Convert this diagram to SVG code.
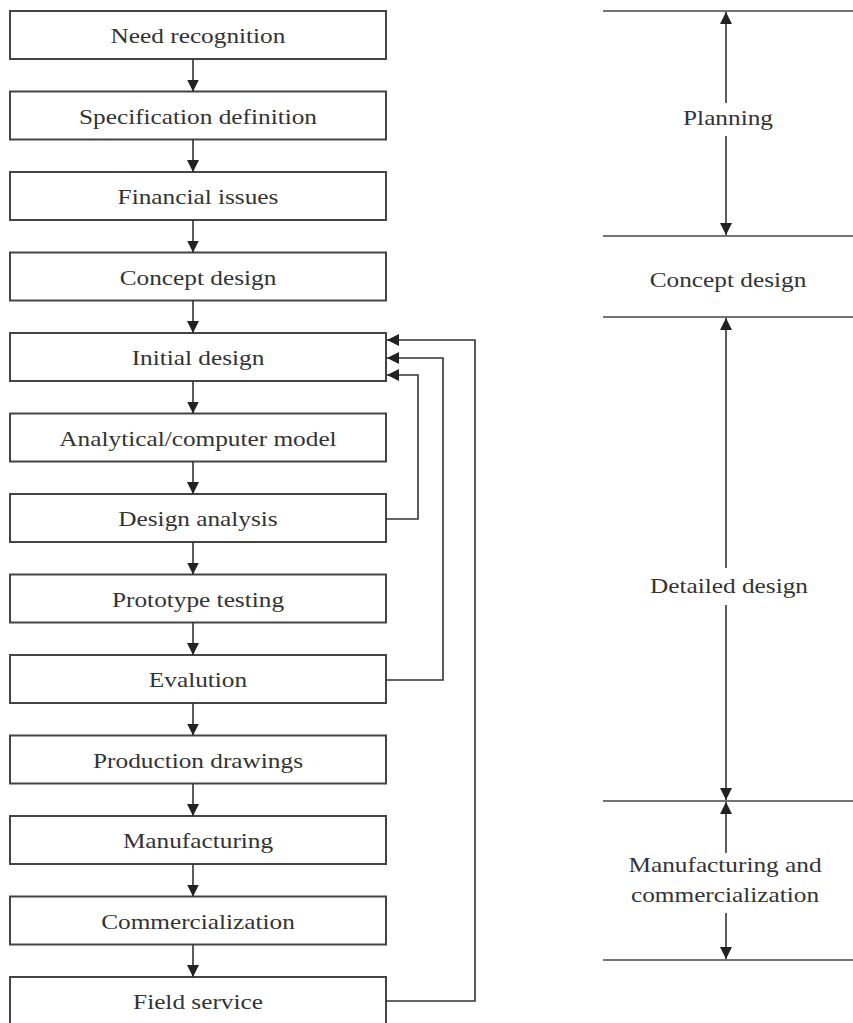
<svg xmlns="http://www.w3.org/2000/svg" width="853" height="1023" viewBox="0 0 853 1023">
<style>
.box{fill:#fff;stroke:#444;stroke-width:2}
.ln{fill:none;stroke:#333;stroke-width:1.6}
.hl{fill:none;stroke:#444;stroke-width:1.6}
.t{font-family:"Liberation Serif","Times New Roman",serif;font-size:22px;fill:#333;text-anchor:middle}
</style>
<defs>
<marker id="ah2" viewBox="0 0 12 12" refX="12" refY="6" markerWidth="12" markerHeight="12" markerUnits="userSpaceOnUse" orient="auto">
<path d="M0,0 L12,6 L0,12 Z" fill="#222"/>
</marker>
</defs>
<rect width="853" height="1023" fill="#fff"/>
<g id="n1"><rect class="box" x="10" y="11" width="376" height="48"/><text class="t" transform="translate(198,43) scale(1.15,1)">Need recognition</text></g>
<g id="n2"><rect class="box" x="10" y="91.5" width="376" height="48"/><text class="t" transform="translate(198,123.5) scale(1.15,1)">Specification definition</text></g>
<g id="n3"><rect class="box" x="10" y="172" width="376" height="48"/><text class="t" transform="translate(198,204) scale(1.15,1)">Financial issues</text></g>
<g id="n4"><rect class="box" x="10" y="252.5" width="376" height="48"/><text class="t" transform="translate(198,284.5) scale(1.15,1)">Concept design</text></g>
<g id="n5"><rect class="box" x="10" y="333" width="376" height="48"/><text class="t" transform="translate(198,365) scale(1.15,1)">Initial design</text></g>
<g id="n6"><rect class="box" x="10" y="413.5" width="376" height="48"/><text class="t" transform="translate(198,445.5) scale(1.15,1)">Analytical/computer model</text></g>
<g id="n7"><rect class="box" x="10" y="494" width="376" height="48"/><text class="t" transform="translate(198,526) scale(1.15,1)">Design analysis</text></g>
<g id="n8"><rect class="box" x="10" y="574.5" width="376" height="48"/><text class="t" transform="translate(198,606.5) scale(1.15,1)">Prototype testing</text></g>
<g id="n9"><rect class="box" x="10" y="655" width="376" height="48"/><text class="t" transform="translate(198,687) scale(1.15,1)">Evalution</text></g>
<g id="n10"><rect class="box" x="10" y="735.5" width="376" height="48"/><text class="t" transform="translate(198,767.5) scale(1.15,1)">Production drawings</text></g>
<g id="n11"><rect class="box" x="10" y="816" width="376" height="48"/><text class="t" transform="translate(198,848) scale(1.15,1)">Manufacturing</text></g>
<g id="n12"><rect class="box" x="10" y="896.5" width="376" height="48"/><text class="t" transform="translate(198,928.5) scale(1.15,1)">Commercialization</text></g>
<g id="n13"><rect class="box" x="10" y="977" width="376" height="48"/><text class="t" transform="translate(198,1009) scale(1.15,1)">Field service</text></g>
<g id="connectors">
<line class="ln" x1="193" y1="59" x2="193" y2="91.5" marker-end="url(#ah2)"/>
<line class="ln" x1="193" y1="139.5" x2="193" y2="172" marker-end="url(#ah2)"/>
<line class="ln" x1="193" y1="220" x2="193" y2="252.5" marker-end="url(#ah2)"/>
<line class="ln" x1="193" y1="300.5" x2="193" y2="333" marker-end="url(#ah2)"/>
<line class="ln" x1="193" y1="381" x2="193" y2="413.5" marker-end="url(#ah2)"/>
<line class="ln" x1="193" y1="461.5" x2="193" y2="494" marker-end="url(#ah2)"/>
<line class="ln" x1="193" y1="542" x2="193" y2="574.5" marker-end="url(#ah2)"/>
<line class="ln" x1="193" y1="622.5" x2="193" y2="655" marker-end="url(#ah2)"/>
<line class="ln" x1="193" y1="703" x2="193" y2="735.5" marker-end="url(#ah2)"/>
<line class="ln" x1="193" y1="783.5" x2="193" y2="816" marker-end="url(#ah2)"/>
<line class="ln" x1="193" y1="864" x2="193" y2="896.5" marker-end="url(#ah2)"/>
<line class="ln" x1="193" y1="944.5" x2="193" y2="977" marker-end="url(#ah2)"/>
<polyline class="ln" points="386,519 418,519 418,375 387,375" marker-end="url(#ah2)"/>
<polyline class="ln" points="386,680 443,680 443,358 387,358" marker-end="url(#ah2)"/>
<polyline class="ln" points="386,1001 475,1001 475,340 387,340" stroke="#777" marker-end="url(#ah2)"/>
<line class="hl" x1="603" y1="11" x2="853" y2="11"/>
<line class="hl" x1="603" y1="236" x2="853" y2="236"/>
<line class="hl" x1="603" y1="317" x2="853" y2="317"/>
<line class="hl" x1="603" y1="801" x2="853" y2="801"/>
<line class="hl" x1="603" y1="960" x2="853" y2="960"/>
<line class="ln" x1="726" y1="103" x2="726" y2="12" marker-end="url(#ah2)"/>
<line class="ln" x1="726" y1="136" x2="726" y2="235" marker-end="url(#ah2)"/>
<line class="ln" x1="726" y1="568" x2="726" y2="318" marker-end="url(#ah2)"/>
<line class="ln" x1="726" y1="605" x2="726" y2="800" marker-end="url(#ah2)"/>
<line class="ln" x1="726" y1="853" x2="726" y2="802" marker-end="url(#ah2)"/>
<line class="ln" x1="726" y1="913" x2="726" y2="959" marker-end="url(#ah2)"/>
</g>
<g id="planning"><text class="t" transform="translate(728,125) scale(1.15,1)">Planning</text></g>
<g id="concept"><text class="t" transform="translate(728,287) scale(1.15,1)">Concept design</text></g>
<g id="detailed"><text class="t" transform="translate(729,593) scale(1.15,1)">Detailed design</text></g>
<g id="mfg"><text class="t" transform="translate(725,872) scale(1.15,1)">Manufacturing and</text><text class="t" transform="translate(725,902) scale(1.15,1)">commercialization</text></g>
</svg>
